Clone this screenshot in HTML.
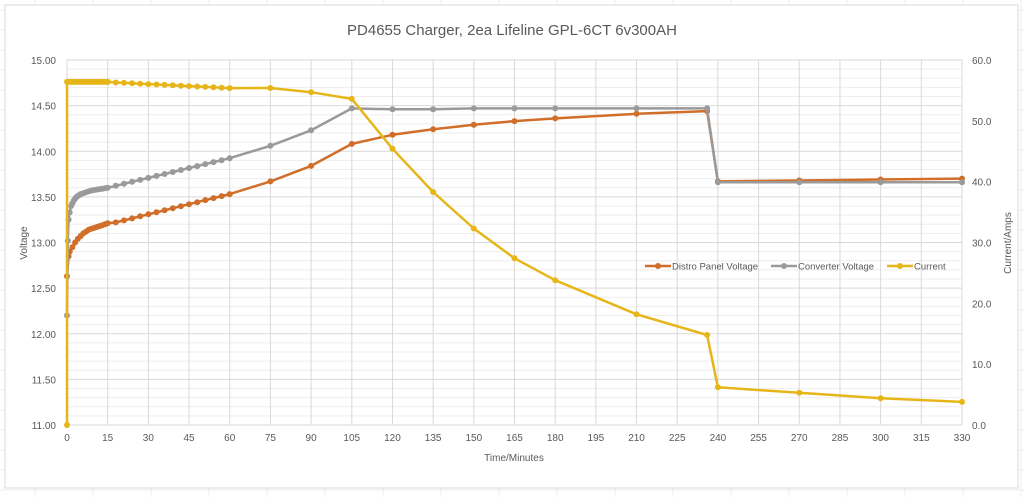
<!DOCTYPE html>
<html><head><meta charset="utf-8">
<style>
html,body{margin:0;padding:0;background:#fff;}
body{width:1024px;height:497px;overflow:hidden;}
svg text{font-family:"Liberation Sans",sans-serif;fill:#595959;}
</style></head>
<body>
<svg id="s" width="1024" height="497" xmlns="http://www.w3.org/2000/svg"></svg>
<script>
var s=document.getElementById('s'),h='';
// background excel cell grid
for(var y=10;y<497;y+=20)h+='<line x1="0" y1="'+y+'" x2="1024" y2="'+y+'" stroke="#ececec"/>';
for(var x=35;x<1024;x+=58)h+='<line x1="'+x+'" y1="0" x2="'+x+'" y2="497" stroke="#ececec"/>';
h+='<rect x="5" y="5" width="1013" height="483" fill="#fff" stroke="#d9d9d9"/>';
var X=function(t){return 67+t*895/330},Y=function(v){return 60+(15-v)*91.25},C=function(c){return 425-c*365/60};
for(var i=0;i<=40;i++){var yy=60+i*9.125;h+='<line x1="67" x2="962" y1="'+yy+'" y2="'+yy+'" stroke="'+(i%5==0?'#d9d9d9':'#eeeeee')+'"/>';}
for(var t=0;t<=330;t+=15){h+='<line x1="'+X(t)+'" x2="'+X(t)+'" y1="60" y2="425" stroke="#d9d9d9"/>';
h+='<text x="'+X(t)+'" y="441" font-size="10" text-anchor="middle">'+t+'</text>';}
for(var i=0;i<=8;i++){var v=15-i*0.5;h+='<text x="56" y="'+(Y(v)+4)+'" font-size="10" text-anchor="end">'+v.toFixed(2)+'</text>';}
for(var i=0;i<=6;i++){h+='<text x="972" y="'+(C(i*10)+4)+'" font-size="10">'+(i*10).toFixed(1)+'</text>';}
h+='<text x="512" y="35" font-size="15" text-anchor="middle">PD4655 Charger, 2ea Lifeline GPL-6CT 6v300AH</text>';
h+='<text x="514" y="461" font-size="10" text-anchor="middle">Time/Minutes</text>';
h+='<text transform="translate(27,243) rotate(-90)" font-size="10" text-anchor="middle">Voltage</text>';
h+='<text transform="translate(1011,243) rotate(-90)" font-size="10" text-anchor="middle">Current/Amps</text>';
function ser(pts,fx,fy,col){var d='';pts.forEach(function(p,i){d+=(i?'L':'M')+fx(p[0]).toFixed(1)+' '+fy(p[1]).toFixed(1);});
h+='<path d="'+d+'" fill="none" stroke="'+col+'" stroke-width="2.5" stroke-linejoin="round"/>';
pts.forEach(function(p){h+='<circle cx="'+fx(p[0]).toFixed(1)+'" cy="'+fy(p[1]).toFixed(1)+'" r="3" fill="'+col+'"/>';});}
var early=[0,0.3,0.6,1,1.5,2,2.5,3,3.5,4,4.5,5,6,7,8,9,10,11,12,13,14,15];
var conv=[[0,12.2],[0.3,13.02],[0.6,13.25],[1,13.33],[1.5,13.4],[2,13.43],[2.5,13.46],[3,13.48],[3.5,13.5],[4,13.51],[4.5,13.52],[5,13.53],[6,13.54],[7,13.55],[8,13.56],[9,13.57],[10,13.575],[11,13.58],[12,13.585],[13,13.59],[14,13.595],[15,13.6]];
[18,21,24,27,30,33,36,39,42,45,48,51,54,57,60].forEach(function(t){conv.push([t,13.6+(t-15)*0.0072]);});
conv=conv.concat([[75,14.06],[90,14.23],[105,14.47],[120,14.46],[135,14.46],[150,14.47],[165,14.47],[180,14.47],[210,14.47],[236,14.47],[240,13.66],[270,13.66],[300,13.66],[330,13.66]]);
var dis=[[0,12.63],[0.6,12.85],[1,12.9],[2,12.95],[3,13.0],[4,13.04],[5,13.07],[6,13.1],[7,13.12],[8,13.14],[9,13.15],[10,13.16],[11,13.17],[12,13.18],[13,13.19],[14,13.2],[15,13.21]];
[18,21,24,27,30,33,36,39,42,45,48,51,54,57,60].forEach(function(t){dis.push([t,13.22+(t-18)*0.0074]);});
dis=dis.concat([[75,13.67],[90,13.84],[105,14.08],[120,14.18],[135,14.24],[150,14.29],[165,14.33],[180,14.36],[210,14.41],[236,14.44],[240,13.67],[270,13.68],[300,13.69],[330,13.7]]);
var cur=[[0,0],[0,56.4]];for(var t=0.3;t<=15;t+=0.7)cur.push([t,56.4]);cur.push([15,56.4]);
[18,21,24,27,30,33,36,39,42,45,48,51,54,57,60].forEach(function(t){cur.push([t,56.3-(t-18)*0.022]);});
cur=cur.concat([[75,55.4],[90,54.7],[105,53.6],[120,45.4],[135,38.3],[150,32.3],[165,27.4],[180,23.8],[210,18.2],[236,14.8],[240,6.2],[270,5.3],[300,4.4],[330,3.8]]);
ser(dis,X,Y,'#d06e2a');ser(conv,X,Y,'#9a9a9a');ser(cur,X,C,'#e6b619');
function leg(x,col,txt){h+='<line x1="'+x+'" x2="'+(x+26)+'" y1="266" y2="266" stroke="'+col+'" stroke-width="2.5"/><circle cx="'+(x+13)+'" cy="266" r="3" fill="'+col+'"/><text x="'+(x+27)+'" y="269.5" font-size="9.5">'+txt+'</text>';}
leg(645,'#d06e2a','Distro Panel Voltage');leg(771,'#9a9a9a','Converter Voltage');leg(887,'#e6b619','Current');
s.innerHTML=h;
</script>
</body></html>
